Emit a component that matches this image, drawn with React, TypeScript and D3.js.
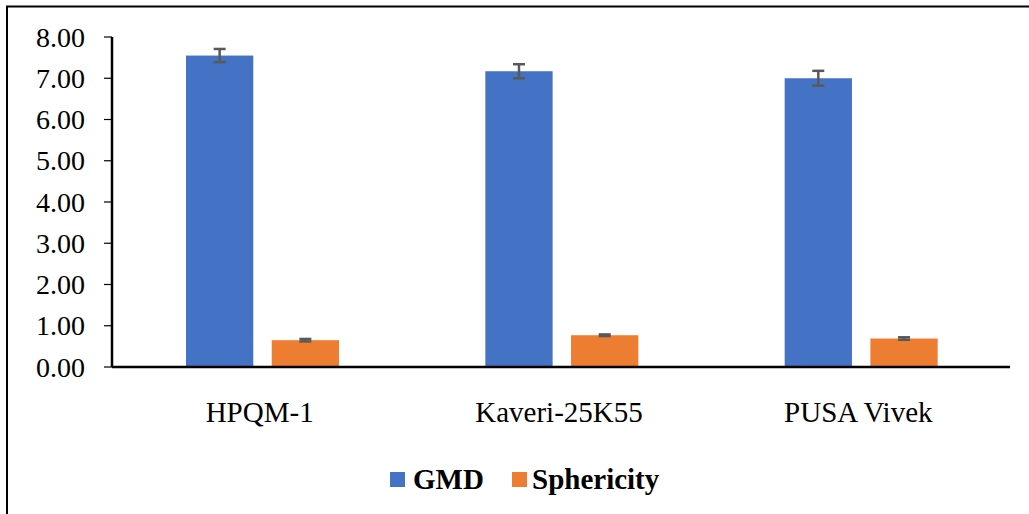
import * as d3 from "d3";

const CATEGORIES = ["HPQM-1", "Kaveri-25K55", "PUSA Vivek"];
const SERIES = ["GMD", "Sphericity"];
const GMD = [7.55, 7.17, 7.0];
const GMD_ERR = [0.16, 0.17, 0.18];
const SPHERICITY = [0.65, 0.77, 0.69];
const SPHERICITY_ERR = [0.03, 0.02, 0.03];
const Y_TICKS = [0, 1, 2, 3, 4, 5, 6, 7, 8];
const COLORS = ["#4472C4", "#ED7D31"];

const W = 1029;
const H = 514;

export default function App() {
  const left = 112;
  const right = 1010;
  const top = 37;
  const bottom = 367;

  const x0 = d3.scaleBand().domain(CATEGORIES).range([left, right]);
  const x1 = d3.scaleBand().domain(SERIES).range([74, 227]).paddingInner(0.215);
  const y = d3.scaleLinear().domain([0, 8]).range([bottom, top]);

  const values = [GMD, SPHERICITY];
  const errs = [GMD_ERR, SPHERICITY_ERR];
  const fmt = d3.format(".2f");

  return (
    <svg width={W} height={H} style={{ position: "absolute", left: 0, top: 0 }}>
      <rect x={7} y={6.5} width={W + 20} height={H + 20} fill="none" stroke="#000" strokeWidth={2} />

      {Y_TICKS.map((t) => (
        <g key={t}>
          <line x1={left - 8} x2={left} y1={y(t)} y2={y(t)} stroke="#000" strokeWidth={1.2} />
          <text
            x={85}
            y={y(t)}
            dy="0.34em"
            textAnchor="end"
            fontSize={28}
            style={{ fontFamily: "Liberation Serif" }}
          >
            {fmt(t)}
          </text>
        </g>
      ))}

      {CATEGORIES.map((c, i) => (
        <g key={c} transform={`translate(${x0(c)},0)`}>
          {SERIES.map((s, j) => {
            const v = values[j][i];
            const e = errs[j][i];
            const bx = x1(s)!;
            const bw = x1.bandwidth();
            const cx = bx + bw / 2;
            return (
              <g key={s}>
                <rect x={bx} y={y(v)} width={bw} height={y(0) - y(v)} fill={COLORS[j]} />
                <g stroke="#595959" strokeWidth={2.5}>
                  <line x1={cx} x2={cx} y1={y(v + e)} y2={y(v - e)} />
                  <line x1={cx - 6} x2={cx + 6} y1={y(v + e)} y2={y(v + e)} />
                  <line x1={cx - 6} x2={cx + 6} y1={y(v - e)} y2={y(v - e)} />
                </g>
              </g>
            );
          })}
          <text
            x={x0.bandwidth() / 2 - 2}
            y={422}
            textAnchor="middle"
            fontSize={29}
            style={{ fontFamily: "Liberation Serif" }}
          >
            {c}
          </text>
        </g>
      ))}

      <line x1={left} x2={left} y1={top} y2={bottom} stroke="#000" strokeWidth={2.5} />
      <line x1={left} x2={right} y1={bottom} y2={bottom} stroke="#000" strokeWidth={2.5} />

      <rect x={390} y={472} width={15} height={15} fill={COLORS[0]} />
      <text x={413} y={489} fontSize={29} fontWeight="bold" style={{ fontFamily: "Liberation Serif" }}>
        {SERIES[0]}
      </text>
      <rect x={512} y={472} width={15} height={15} fill={COLORS[1]} />
      <text x={532} y={489} fontSize={29} fontWeight="bold" style={{ fontFamily: "Liberation Serif" }}>
        {SERIES[1]}
      </text>
    </svg>
  );
}
